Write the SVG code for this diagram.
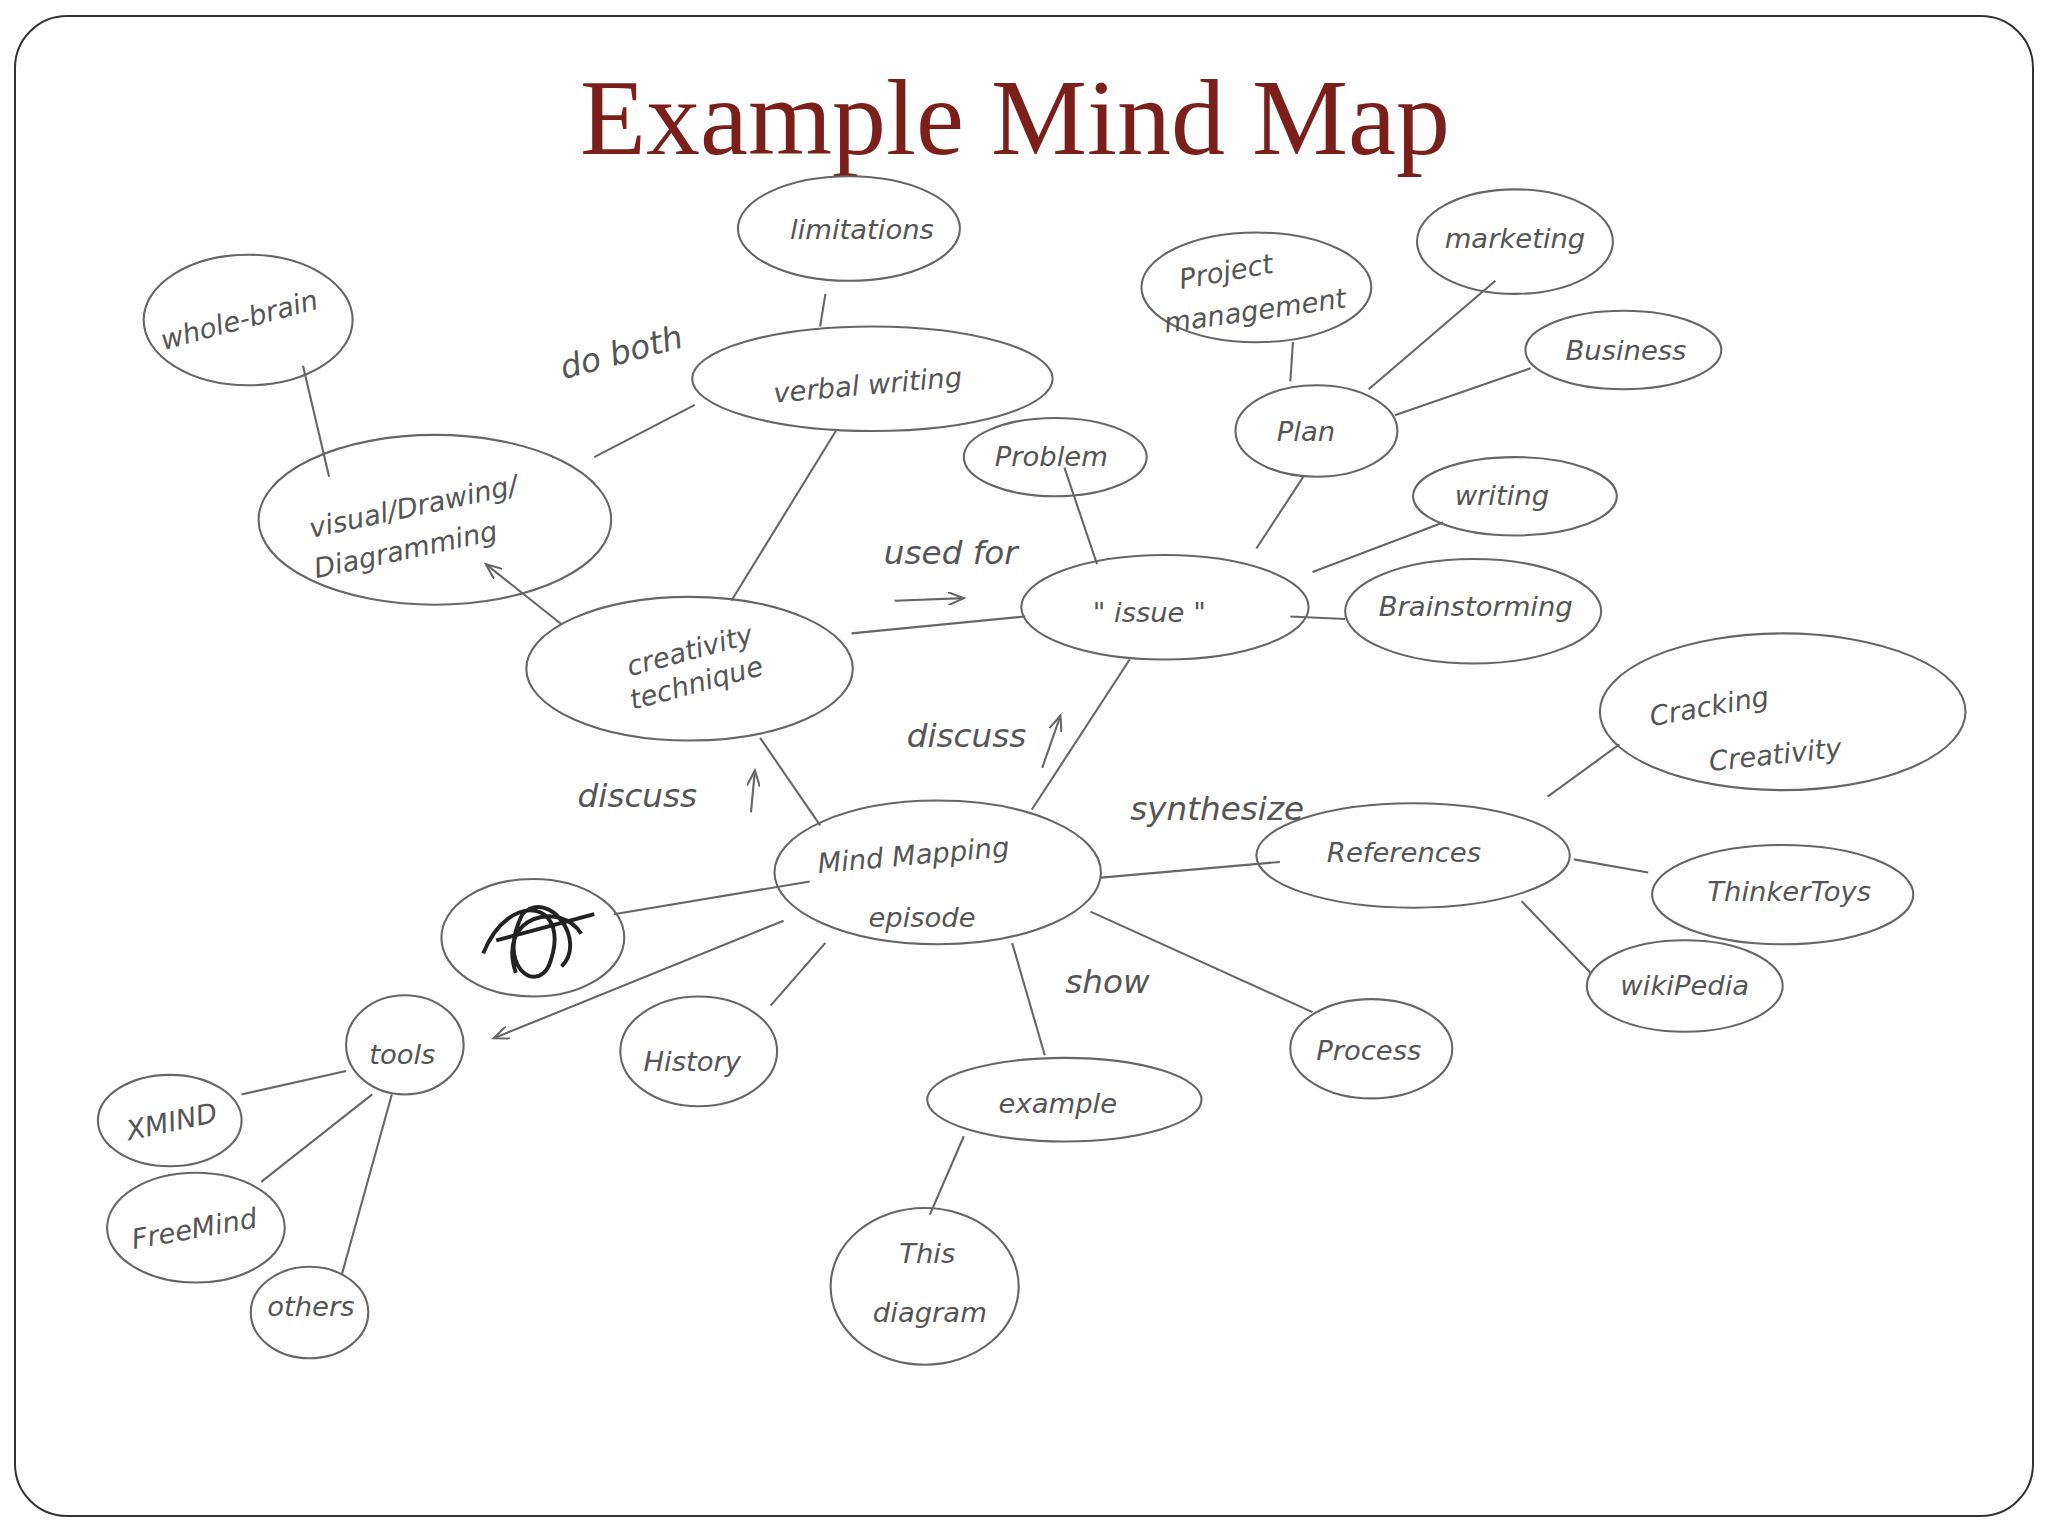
<svg xmlns="http://www.w3.org/2000/svg" width="2048" height="1536" viewBox="0 0 2048 1536">
<style>
.n ellipse{fill:none;stroke:#666;stroke-width:1.6}
.t{font-family:"DejaVu Sans",sans-serif;font-style:italic;font-size:21px;fill:#555;text-anchor:middle}
.l{font-family:"DejaVu Sans",sans-serif;font-style:italic;font-size:25px;fill:#555;text-anchor:middle}
#edges line{stroke:#666;stroke-width:1.6}
</style>
<defs><marker id="a" markerWidth="14" markerHeight="10" refX="12" refY="5" orient="auto" markerUnits="userSpaceOnUse"><path d="M0,0 L12,5 L0,10" fill="none" stroke="#666" stroke-width="1.6"/></marker></defs>
<rect x="0" y="0" width="2048" height="1536" fill="#fff"/>
<rect x="15" y="16" width="2018" height="1500" rx="52" fill="#fff" stroke="#333" stroke-width="2"/>
<text x="1015" y="154" font-family="Liberation Serif,serif" font-size="108" fill="#7b1f1a" text-anchor="middle">Example Mind Map</text>
<g transform="scale(1.306)">
<g id="edges">
<line x1="232" y1="280" x2="252" y2="365"/>
<line x1="455" y1="350" x2="532" y2="310"/>
<line x1="632" y1="225" x2="628" y2="250"/>
<line x1="640" y1="330" x2="560" y2="460"/>
<line x1="430" y1="478" x2="372" y2="432" marker-end="url(#a)"/>
<line x1="652" y1="485" x2="785" y2="472"/>
<line x1="815" y1="358" x2="840" y2="432"/>
<line x1="962" y1="420" x2="998" y2="365"/>
<line x1="988" y1="292" x2="990" y2="262"/>
<line x1="1048" y1="298" x2="1145" y2="215"/>
<line x1="1068" y1="318" x2="1172" y2="282"/>
<line x1="1005" y1="438" x2="1105" y2="400"/>
<line x1="988" y1="472" x2="1030" y2="474"/>
<line x1="865" y1="505" x2="790" y2="620"/>
<line x1="582" y1="565" x2="628" y2="632"/>
<line x1="843" y1="672" x2="980" y2="660"/>
<line x1="1185" y1="610" x2="1240" y2="570"/>
<line x1="1205" y1="658" x2="1262" y2="668"/>
<line x1="1165" y1="690" x2="1218" y2="745"/>
<line x1="835" y1="698" x2="1005" y2="775"/>
<line x1="775" y1="722" x2="800" y2="808"/>
<line x1="632" y1="722" x2="590" y2="770"/>
<line x1="600" y1="705" x2="378" y2="795" marker-end="url(#a)"/>
<line x1="620" y1="675" x2="470" y2="700"/>
<line x1="265" y1="820" x2="185" y2="838"/>
<line x1="285" y1="838" x2="200" y2="905"/>
<line x1="300" y1="838" x2="262" y2="975"/>
<line x1="738" y1="870" x2="712" y2="930"/>
<line x1="685" y1="460" x2="738" y2="458" marker-end="url(#a)"/>
<line x1="798" y1="588" x2="812" y2="548" marker-end="url(#a)"/>
<line x1="575" y1="622" x2="578" y2="590" marker-end="url(#a)"/>
</g>
<g class="n" id="n1"><ellipse cx="190" cy="245" rx="80" ry="50"/><text class="t" x="185" y="252" transform="rotate(-15 185 252)">whole-brain</text></g>
<g class="n" id="n2"><ellipse cx="650" cy="175" rx="85" ry="40"/><text class="t" x="660" y="183">limitations</text></g>
<g class="n" id="n3"><ellipse cx="668" cy="290" rx="138" ry="40"/><text class="t" x="665" y="302" transform="rotate(-5 665 302)">verbal writing</text></g>
<g class="n" id="n4"><ellipse cx="333" cy="398" rx="135" ry="65"/><text class="t" x="318" y="395" transform="rotate(-12 318 395)">visual/Drawing/</text><text class="t" x="312" y="428" transform="rotate(-12 312 428)">Diagramming</text></g>
<g class="n" id="n5"><ellipse cx="962" cy="220" rx="88" ry="42"/><text class="t" x="940" y="215" transform="rotate(-10 940 215)">Project</text><text class="t" x="962" y="245" transform="rotate(-8 962 245)">management</text></g>
<g class="n" id="n6"><ellipse cx="1160" cy="185" rx="75" ry="40"/><text class="t" x="1160" y="190">marketing</text></g>
<g class="n" id="n7"><ellipse cx="1243" cy="268" rx="75" ry="30"/><text class="t" x="1245" y="276">Business</text></g>
<g class="n" id="n8"><ellipse cx="1008" cy="330" rx="62" ry="35"/><text class="t" x="1000" y="338">Plan</text></g>
<g class="n" id="n9"><ellipse cx="808" cy="350" rx="70" ry="30"/><text class="t" x="805" y="357">Problem</text></g>
<g class="n" id="n10"><ellipse cx="1160" cy="380" rx="78" ry="30"/><text class="t" x="1150" y="387">writing</text></g>
<g class="n" id="n11"><ellipse cx="892" cy="465" rx="110" ry="40"/><text class="t" x="880" y="476">" issue "</text></g>
<g class="n" id="n12"><ellipse cx="1128" cy="468" rx="98" ry="40"/><text class="t" x="1130" y="472">Brainstorming</text></g>
<g class="n" id="n13"><ellipse cx="528" cy="512" rx="125" ry="55"/><text class="t" x="530" y="505" transform="rotate(-15 530 505)">creativity</text><text class="t" x="535" y="530" transform="rotate(-15 535 530)">technique</text></g>
<g class="n" id="n14"><ellipse cx="1365" cy="545" rx="140" ry="60"/><text class="t" x="1310" y="548" transform="rotate(-10 1310 548)">Cracking</text><text class="t" x="1360" y="585" transform="rotate(-6 1360 585)">Creativity</text></g>
<g class="n" id="n15"><ellipse cx="718" cy="668" rx="125" ry="55"/><text class="t" x="700" y="662" transform="rotate(-5 700 662)">Mind Mapping</text><text class="t" x="706" y="710">episode</text></g>
<g class="n" id="n16"><ellipse cx="1082" cy="655" rx="120" ry="40"/><text class="t" x="1075" y="660">References</text></g>
<g class="n" id="n17"><ellipse cx="1365" cy="685" rx="100" ry="38"/><text class="t" x="1370" y="690">ThinkerToys</text></g>
<g class="n" id="n18"><ellipse cx="1290" cy="755" rx="75" ry="35"/><text class="t" x="1290" y="762">wikiPedia</text></g>
<g class="n" id="n19"><ellipse cx="408" cy="718" rx="70" ry="45"/><path d="M370,730 C390,680 440,690 420,740 C410,760 380,740 400,700 C420,680 450,720 430,740 M380,720 L455,700 M395,745 C380,700 430,690 445,715" fill="none" stroke="#222" stroke-width="3"/></g>
<g class="n" id="n20"><ellipse cx="310" cy="800" rx="45" ry="38"/><text class="t" x="308" y="815">tools</text></g>
<g class="n" id="n21"><ellipse cx="130" cy="858" rx="55" ry="35"/><text class="t" x="133" y="866" transform="rotate(-12 133 866)">XMIND</text></g>
<g class="n" id="n22"><ellipse cx="535" cy="805" rx="60" ry="42"/><text class="t" x="530" y="820">History</text></g>
<g class="n" id="n23"><ellipse cx="815" cy="842" rx="105" ry="32"/><text class="t" x="810" y="852">example</text></g>
<g class="n" id="n24"><ellipse cx="1050" cy="803" rx="62" ry="38"/><text class="t" x="1048" y="812">Process</text></g>
<g class="n" id="n25"><ellipse cx="150" cy="940" rx="68" ry="42"/><text class="t" x="150" y="948" transform="rotate(-10 150 948)">FreeMind</text></g>
<g class="n" id="n26"><ellipse cx="237" cy="1005" rx="45" ry="35"/><text class="t" x="238" y="1008">others</text></g>
<g class="n" id="n27"><ellipse cx="708" cy="985" rx="72" ry="60"/><text class="t" x="710" y="967">This</text><text class="t" x="712" y="1012">diagram</text></g>
<text class="l" x="478" y="278" transform="rotate(-15 478 278)">do both</text>
<text class="l" x="728" y="432">used for</text>
<text class="l" x="740" y="572">discuss</text>
<text class="l" x="488" y="618">discuss</text>
<text class="l" x="932" y="628">synthesize</text>
<text class="l" x="848" y="760">show</text>
</g>
</svg>
